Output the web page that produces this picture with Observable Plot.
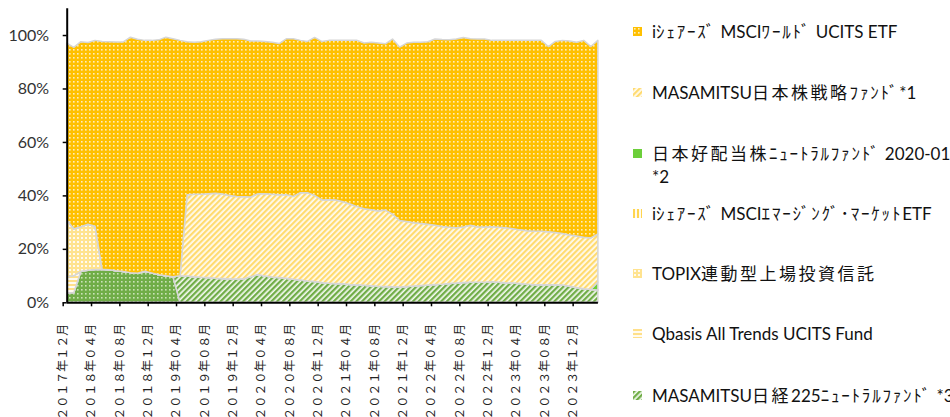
<!DOCTYPE html>
<html><head><meta charset="utf-8">
<script src="https://cdn.jsdelivr.net/npm/d3@7"></script>
<script src="https://cdn.jsdelivr.net/npm/@observablehq/plot@0.6"></script>
<style>
html,body{margin:0;padding:0;background:#fff;width:950px;height:417px;overflow:hidden;}
#chart{position:absolute;left:0;top:0;}
#legend{position:absolute;left:0;top:0;width:950px;height:417px;overflow:hidden;}
.item{position:absolute;left:633px;white-space:nowrap;font-family:Lato,"Noto Sans CJK JP",sans-serif;font-size:17px;line-height:23px;color:#111;}
.item .line{position:absolute;left:19px;white-space:nowrap;}
.item svg{position:absolute;left:0;}
.cjk{letter-spacing:2.5px;}
.kana{letter-spacing:1.8px;}
</style>
</head><body>
<div id="chart"></div>
<div id="legend"></div>
<script>
// x tick labels (every 4 months from 2017-12)
const tickLabels = ["２０１７年１２月","２０１８年０４月","２０１８年０８月","２０１８年１２月","２０１９年０４月","２０１９年０８月","２０１９年１２月","２０２０年０４月","２０２０年０８月","２０２０年１２月","２０２１年０４月","２０２１年０８月","２０２１年１２月","２０２２年０４月","２０２２年０８月","２０２２年１２月","２０２３年０４月","２０２３年０８月","２０２３年１２月"];

// monthly values in % (index 0 = 2017-12 ... index 75 = 2024-03)
// stacked bottom -> top
const hiddenFund = [3.6,3.6,11.6,12.0,12.3,12.4,12.2,11.8,11.5,11.1,10.9,11.6,11.0,10.3,9.9,9.6,
  0,0,0,0,0,0,0,0,0,0,0,0,0,0,0,0,0,0,0,0,0,0,0,0,0,0,0,0,0,0,0,0,0,0,0,0,0,0,0,0,0,0,0,0,0,0,0,0,0,0,0,0,0,0,0,0,0,0,0,0];
const n225 = [0,0,0,0,0,0,0,0,0,0,0,0,0,0,0,0,
  9.9,9.8,9.6,9.4,9.3,9.0,8.9,8.7,8.7,8.8,9.6,10.4,9.8,9.5,9.3,9.0,8.6,8.3,8.0,7.8,
  7.4,7.1,7.0,6.9,6.7,6.6,6.4,6.2,6.0,5.9,5.8,5.7,5.9,6.1,6.3,6.5,6.7,6.8,7.0,7.2,
  7.4,7.5,7.5,7.5,7.7,7.5,7.3,7.2,7.0,6.8,6.6,6.6,6.6,6.6,6.5,6.0,5.5,5.1,4.8,4.6];
const qbasis = [6.0,6.3,0,0,0,0,0,0,0,0,0,0,0,0,0,0,0,0,0,0,0,0,0,0,0,0,0,0,0,0,0,0,0,0,0,0,0,0,0,0,0,0,0,0,0,0,0,0,0,0,0,0,0,0,0,0,0,0,0,0,0,0,0,0,0,0,0,0,0,0,0,0,0,0,0,0];
const topix = [21.2,17.6,16.7,17.2,16.2,0,0,0,0,0,0,0,0,0,0,0,0,0,0,0,0,0,0,0,0,0,0,0,0,0,0,0,0,0,0,0,0,0,0,0,0,0,0,0,0,0,0,0,0,0,0,0,0,0,0,0,0,0,0,0,0,0,0,0,0,0,0,0,0,0,0,0,0,0,0,0];
const emerging = [0,0,0,0,0,0,0,0,0,0,0,0,0,0,0,0,0,0,0,0,0,0,0,0,0,0,0,0,0,0,0,0,0,0,0,0,0,0,0,0,0,0,0,0,0,0,0,0,0,0,0,0,0,0,0,0,0,0,0,0,0,0,0,0,0,0,0,0,0,0,0,0,0,0,0,0];
const koHaito = [0,0,0,0,0,0,0,0,0,0,0,0,0,0,0,0,0,0,0,0,0,0,0,0,0,0,0,0,0,0,0,0,0,0,0,0,0,0,0,0,0,0,0,0,0,0,0,0,0,0,0,0,0,0,0,0,0,0,0,0,0,0,0,0,0,0,0,0,0,0,0,0,0,0,0,3.0];
const strategy = [0,0,0,0,0,0,0,0,0,0,0,0,0,0,0,0,0,
  30.4,30.8,31.0,31.3,31.8,31.6,31.3,30.9,30.7,29.8,30.2,30.8,30.9,30.9,31.2,31.0,32.7,33.0,32.2,
  30.9,31.3,31.3,30.7,30.1,29.2,28.6,28.4,28.2,28.6,27.2,24.9,24.3,23.7,23.2,22.7,22.1,21.6,21.1,20.7,
  20.8,21.3,20.7,20.7,20.6,20.6,20.6,20.3,20.1,20.0,20.0,20.0,19.8,19.5,19.2,19.2,19.3,19.2,19.3,18.0];
const world = [66.2,67.9,69.2,68.0,69.5,85.2,85.3,85.6,85.9,88.1,87.5,86.4,87.0,87.9,89.3,89.0,88.1,
  57.3,56.9,57.1,57.4,57.6,58.1,58.6,59.0,58.9,58.4,57.2,57.0,56.9,56.6,58.4,59.0,57.0,56.6,59.1,
  59.3,59.6,59.7,60.4,61.2,62.2,62.0,62.7,62.8,62.2,65.5,64.9,66.8,67.5,67.8,68.3,69.7,69.9,70.1,70.6,
  70.9,69.8,70.3,70.3,69.7,69.9,70.1,70.5,70.9,71.2,71.4,71.4,69.3,71.5,72.3,72.6,72.5,73.7,71.6,72.4];

const seriesKeys = ["hidden","n225","qbasis","topix","emerging","koHaito","strategy","world"];
const seriesValues = {hidden: hiddenFund, n225, qbasis, topix, emerging, koHaito, strategy, world};

// legend (top to bottom as shown)
const legendKeys = ["world","strategy","koHaito","emerging","topix","qbasis","n225"];
const legendLabels = ["iｼｪｱｰｽﾞ MSCIﾜｰﾙﾄﾞ UCITS ETF","MASAMITSU日本株戦略ﾌｧﾝﾄﾞ*1","日本好配当株ﾆｭｰﾄﾗﾙﾌｧﾝﾄﾞ 2020-01\n*2","iｼｪｱｰｽﾞ MSCIｴﾏｰｼﾞﾝｸﾞ･ﾏｰｹｯﾄETF","TOPIX連動型上場投資信託","Qbasis All Trends UCITS Fund","MASAMITSU日経225ﾆｭｰﾄﾗﾙﾌｧﾝﾄﾞ *3"];

const rows = [];
seriesKeys.forEach(k => seriesValues[k].forEach((v, i) => rows.push({i, key: k, v: v / 100})));

const chart = Plot.plot({
  width: 610, height: 430,
  marginLeft: 66.7, marginRight: 12.1, marginTop: 8.3, marginBottom: 127.7,
  style: {background: "transparent", overflow: "visible"},
  x: {type: "linear", domain: [0, 75], axis: null},
  y: {domain: [0, 1.1], axis: null},
  color: {type: "ordinal", domain: seriesKeys, range: seriesKeys.map(k => `url(#pat-${k})`)},
  marks: [
    Plot.areaY(rows, {x: "i", y: "v", fill: "key", z: "key", order: seriesKeys, stroke: "#d6d6d6", strokeWidth: 1.5}),
    Plot.ruleY([0], {stroke: "#000", strokeWidth: 2}),
    Plot.ruleX([0], {stroke: "#000", strokeWidth: 2}),
    Plot.axisY({ticks: [0, 0.2, 0.4, 0.6, 0.8, 1], tickFormat: d3.format(".0%"), tickSize: 4, tickPadding: 14, label: null,
      fontSize: 16, fontFamily: "Lato, sans-serif", fill: "#333", stroke: "#000", strokeWidth: 1.5}),
    Plot.axisX({ticks: d3.range(0, 73, 4), tickFormat: i => tickLabels[i / 4], tickRotate: -90, tickSize: 4, tickPadding: 17, label: null,
      fontSize: 12, fontFamily: "'Noto Sans CJK JP', sans-serif", fill: "#222", stroke: "#000", strokeWidth: 1.5, dx: -4})
  ]
});
document.getElementById("chart").appendChild(chart);

// pattern fills
const defs = d3.select(chart).insert("defs", ":first-child");
function dots(id, bg, dot, size, ds) {
  const p = defs.append("pattern").attr("id", id).attr("patternUnits", "userSpaceOnUse").attr("width", size).attr("height", size);
  p.append("rect").attr("width", size).attr("height", size).attr("fill", bg);
  p.append("rect").attr("x", 1).attr("y", 1).attr("width", ds).attr("height", ds).attr("fill", dot);
}
function stripes(id, c1, c2, period, w, angle) {
  const p = defs.append("pattern").attr("id", id).attr("patternUnits", "userSpaceOnUse").attr("width", period).attr("height", period)
    .attr("patternTransform", `rotate(${angle})`);
  p.append("rect").attr("width", period).attr("height", period).attr("fill", c2);
  p.append("rect").attr("width", w).attr("height", period).attr("fill", c1);
}
dots("pat-world", "#ffc000", "#ffeebb", 4, 1.6);
dots("pat-hidden", "#70ad47", "#c9e3b8", 4, 1.6);
dots("pat-topix", "#ffe38f", "#fffaf0", 4, 2);
stripes("pat-strategy", "#ffdb70", "#fffbf0", 4, 2.2, 45);
stripes("pat-n225", "#70ad47", "#f4faf0", 4, 2.3, 45);
stripes("pat-qbasis", "#ffe08a", "#fffbf0", 4, 2, 90);
stripes("pat-emerging", "#ffd54f", "#fffbf0", 4, 2, 0);
const kh = defs.append("pattern").attr("id", "pat-koHaito").attr("patternUnits", "userSpaceOnUse").attr("width", 4).attr("height", 4);
kh.append("rect").attr("width", 4).attr("height", 4).attr("fill", "#6ccf3a");

// legend
const legend = document.getElementById("legend");
const centers = [31, 92, 153, 213, 273, 333, 395];
const styleText = s => s
  .replace(/[\u4e00-\u9fff]+/g, m => `<span class="cjk">${m}</span>`)
  .replace(/[\uff61-\uff9f]+/g, m => `<span class="kana">${m}</span>`);
legendKeys.forEach((k, j) => {
  const div = document.createElement("div");
  div.className = "item";
  div.style.top = (centers[j] - 11.5) + "px";
  div.innerHTML = `<svg width="9" height="9" style="top:7px"><rect width="9" height="9" fill="url(#pat-${k})"/></svg>`;
  legendLabels[j].split("\n").forEach((ln, r) => {
    const d = document.createElement("div");
    d.className = "line";
    d.style.top = (r * 23.5) + "px";
    d.innerHTML = styleText(ln);
    div.appendChild(d);
  });
  legend.appendChild(div);
});
</script>
</body></html>
